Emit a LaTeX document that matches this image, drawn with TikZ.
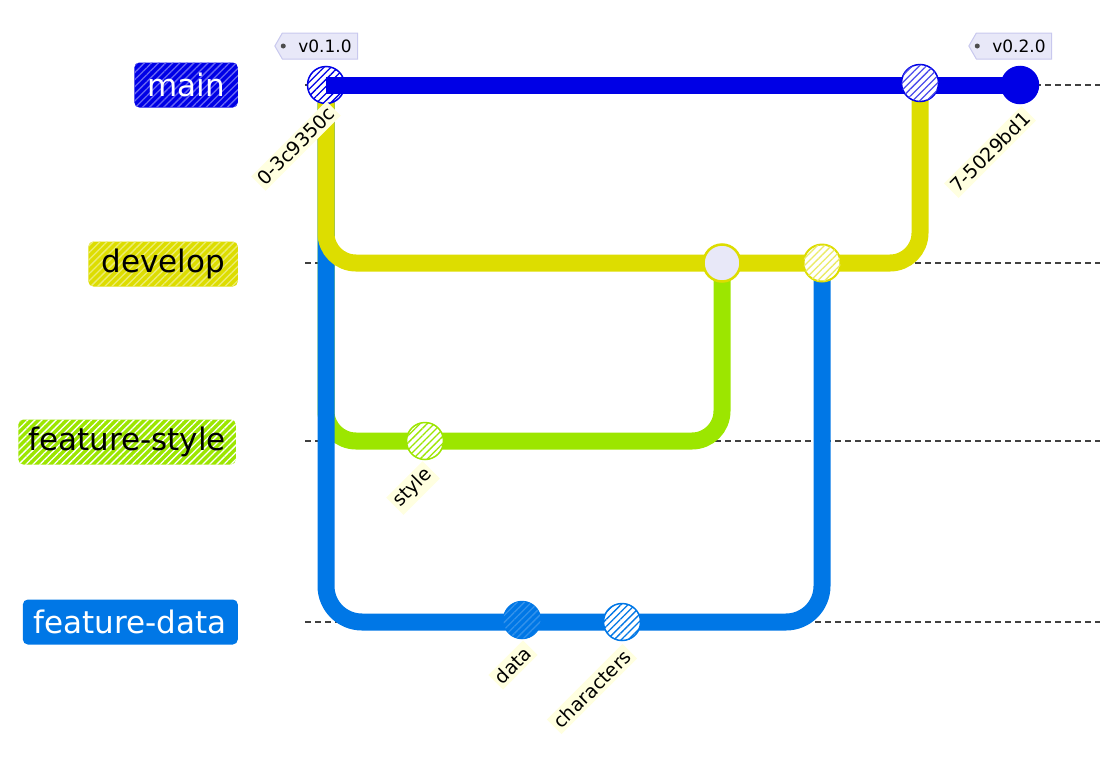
\documentclass[tikz,border=0pt]{standalone}
\usepackage{fontspec}
\setmainfont{DejaVu Sans}
\usetikzlibrary{patterns.meta,shapes.symbols}
\definecolor{mainblue}{HTML}{0000E6}
\definecolor{devyellow}{HTML}{DDDD00}
\definecolor{stylegreen}{HTML}{9CE600}
\definecolor{datablue}{HTML}{0077E6}
\definecolor{tagfill}{HTML}{E8E8F8}
\definecolor{tagborder}{HTML}{C8C8EE}
\definecolor{labelbg}{HTML}{FFFFE0}
\tikzset{
  rowline/.style={draw=black!75, dash pattern=on 6pt off 4pt, line width=1.3pt},
  branchline/.style={line width=17pt, rounded corners=30pt},
  hatch/.style={postaction={pattern={Lines[angle=45,distance=5pt,line width=1.3pt]}, pattern color=#1}},
  branchbox/.style={rounded corners=5pt, inner xsep=13pt, minimum height=45pt, font=\fontsize{31}{34}\selectfont, anchor=east},
  commit/.style={circle, minimum size=37pt, inner sep=0pt, line width=1.5pt},
  clabel/.style={fill=labelbg, rotate=45, inner sep=3pt, font=\fontsize{19}{21}\selectfont},
  tagbox/.style={signal, signal to=west, signal pointer angle=120, fill=tagfill, draw=tagborder, line width=1pt, inner ysep=4pt, inner xsep=6pt, font=\fontsize{17}{19}\selectfont, minimum height=26pt},
}
\begin{document}
\begin{tikzpicture}[x=1pt,y=-1pt]
\useasboundingbox (0,0) rectangle (1116,766);
% row guide lines
\coordinate (r0a) at (305,85);  \coordinate (r0b) at (1100,85);
\coordinate (r1a) at (305,263); \coordinate (r1b) at (1100,263);
\coordinate (r2a) at (305,441); \coordinate (r2b) at (1100,441);
\coordinate (r3a) at (305,622); \coordinate (r3b) at (1100,622);
\draw[rowline] (r0a) -- (r0b);
\draw[rowline] (r1a) -- (r1b);
\draw[rowline] (r2a) -- (r2b);
\draw[rowline] (r3a) -- (r3b);
% branch labels
\node[branchbox, fill=mainblue, hatch=white!40!mainblue, text=white] (lmain) at (238,85) {main};
\node[branchbox, fill=devyellow, hatch=white!45!devyellow, text=black] (ldev) at (238,264) {develop};
\node[branchbox, fill=stylegreen, hatch=white, text=black, inner xsep=10pt] (lstyle) at (236,442) {feature-style};
\node[branchbox, fill=datablue, text=white, inner xsep=11pt] (ldata) at (238,622) {feature-data};
% commit positions
\coordinate (p0) at (326,85);
\coordinate (pstyle) at (425,441);
\coordinate (pdata) at (522,620);
\coordinate (pchar) at (622,622);
\coordinate (pm1) at (722,263);
\coordinate (pm2) at (822,263);
\coordinate (pm3) at (920,83);
\coordinate (p7) at (1020,85);
% branch lines
\draw[branchline, stylegreen] (p0) -- (326,441) -- (722,441) -- (pm1);
\draw[branchline, datablue, rounded corners=36pt] (p0) -- (326,622) -- (822,622) -- (pm2);
\draw[branchline, devyellow] (p0) -- (326,263) -- (920,263) -- (pm3);
% first commit under main line
\node[commit, fill=white, hatch=mainblue, draw=mainblue] (c0) at (p0) {};
\draw[line width=17pt, mainblue] (c0.center) -- (p7);
% commits
\node[commit, fill=white, hatch=stylegreen, draw=stylegreen] (cstyle) at (pstyle) {};
\node[commit, fill=datablue, hatch=datablue!80!white, draw=datablue] (cdata) at (pdata) {};
\node[commit, fill=white, hatch=datablue, draw=datablue] (cchar) at (pchar) {};
\node[commit, fill=tagfill, draw=devyellow, line width=2.5pt] (cm1) at (pm1) {};
\node[commit, fill=white, hatch=devyellow!60!white, draw=devyellow, line width=2pt] (cm2) at (pm2) {};
\node[commit, fill=white, hatch=mainblue!70!white, draw=mainblue] (cm3) at (pm3) {};
\node[commit, fill=mainblue, draw=mainblue] (c7) at (p7) {};
% commit labels
\node[clabel] (l0) at (296,146) {0-3c9350c};
\node[clabel] (l7) at (990,152) {7-5029bd1};
\node[clabel] (lst) at (413,488) {style};
\node[clabel] (lda) at (513,665) {data};
\node[clabel] (lch) at (592,689) {characters};
% tags
\node[tagbox] (t1) at (320,46) {\hspace{10pt}v0.1.0};
\fill[black!70] ([xshift=9pt]t1.west) circle (2.5pt);
\node[tagbox] (t2) at (1014,46) {\hspace{10pt}v0.2.0};
\fill[black!70] ([xshift=9pt]t2.west) circle (2.5pt);
\end{tikzpicture}
\end{document}
